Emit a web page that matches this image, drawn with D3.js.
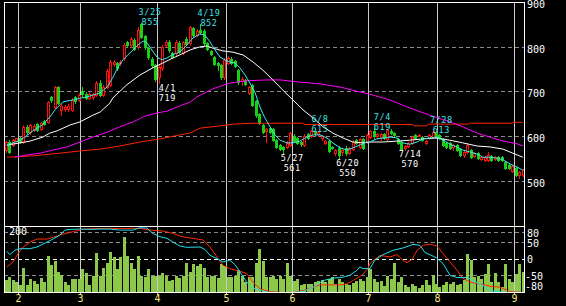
<!DOCTYPE html>
<html><head><meta charset="utf-8">
<script src="https://cdn.jsdelivr.net/npm/d3@7"></script>
<style>html,body{margin:0;padding:0;background:#000;overflow:hidden}</style>
</head><body>
<svg id="c" width="566" height="306"></svg>
<script>
// ---- data (daily bars, index 0..149) ----
const open  = [570,589,581,590,596,588,622,610,615,628,617,634,633,688,666,711,660,661,662,660,688,682,702,695,687,688,693,720,693,711,716,763,765,764,776,812,805,816,800,853,825,798,774,760,733,754,805,812,787,787,810,787,818,810,843,827,838,836,810,792,778,765,760,733,765,774,769,749,725,727,698,716,680,651,626,613,619,617,592,581,577,577,581,602,597,588,581,606,602,613,605,597,586,590,577,563,575,565,575,564,572,592,577,594,588,600,613,601,599,606,595,613,608,595,588,575,579,586,604,603,599,586,597,599,611,604,595,586,586,577,581,572,559,566,570,557,563,550,548,548,557,550,554,554,543,537,523,530,514,514];
const high  = [590,592,595,598,600,625,625,628,628,630,633,638,680,692,714,714,672,670,672,686,691,697,712,699,699,698,725,727,715,752,772,772,768,772,810,815,822,820,845,855,828,800,778,763,760,805,816,816,790,816,814,815,822,848,846,840,852,840,812,795,781,768,763,776,781,778,772,752,734,730,714,718,683,654,628,619,622,620,595,584,580,590,611,606,599,590,606,609,615,613,613,603,593,592,579,572,578,575,578,577,592,595,598,597,607,615,619,609,609,609,617,617,610,597,590,581,588,601,606,606,601,593,606,613,611,606,597,588,588,584,584,575,570,586,572,566,566,557,557,566,559,557,557,557,545,539,537,532,523,527];
const low   = [566,563,578,588,585,586,607,607,612,612,615,626,630,678,664,672,648,657,658,657,676,680,692,684,684,685,690,690,690,708,713,758,750,760,772,800,800,793,797,820,797,774,755,725,719,750,800,790,775,783,787,784,805,806,824,825,830,806,793,782,760,750,730,730,762,762,755,718,716,715,695,668,645,628,608,588,608,590,574,569,561,574,578,588,583,580,578,595,599,604,602,592,584,565,572,560,550,560,560,561,570,584,575,572,586,598,598,598,593,595,592,606,600,584,570,571,576,584,595,601,590,584,595,597,597,595,579,575,572,570,568,557,554,563,552,554,550,548,546,546,546,548,546,545,528,528,521,512,508,512];
const close = [587,566,592,596,588,622,610,625,624,615,630,628,677,682,711,675,668,667,668,682,679,693,695,687,696,695,720,693,711,747,767,768,754,768,805,805,818,796,838,823,800,778,760,729,756,800,812,794,778,812,790,812,807,845,827,836,834,810,796,785,763,760,733,772,776,765,758,722,729,718,711,671,648,631,611,617,611,592,577,572,572,586,608,590,586,584,602,597,613,608,611,601,590,568,574,570,559,570,563,574,588,586,595,575,604,612,601,606,606,597,615,608,604,586,570,579,586,599,597,604,592,590,604,611,599,597,581,577,575,581,570,559,566,581,554,563,552,554,554,559,548,554,548,548,530,530,534,514,521,525];
const volume = [36,44,36,29,22,72,22,39,32,24,42,29,108,81,94,62,52,29,21,39,39,39,69,59,21,49,118,49,72,89,120,107,69,107,168,108,89,69,108,49,46,69,49,48,48,59,49,34,36,48,42,48,88,62,86,79,86,72,46,48,49,43,86,79,44,45,48,66,48,29,45,46,89,131,94,44,46,48,39,49,39,89,48,34,39,22,24,24,24,29,34,36,29,39,44,24,39,29,24,22,26,34,39,34,46,69,39,29,32,19,48,39,89,29,46,22,16,25,19,13,22,36,22,52,25,16,22,29,25,29,22,25,36,115,98,46,48,39,56,84,29,59,29,16,84,39,29,56,84,62];

const monthLabels = ["2","3","4","5","6","7","8","9"];
const monthStart  = [4,22,44,64,83,105,125,147];
const priceTicks  = [900,800,700,600,500];
const oscTicks    = [80,50,0,-50,-80];
const oscGrid     = [80,50,0,-50];
const volumeLabel = "200";

const peakIdx   = [39,56,88,106,123];
const peakDate  = ["3/25","4/19","6/8","7/4","7/28"];
const troughIdx = [44,80,96,114];
const troughDate= ["4/1","5/27","6/20","7/14"];

// moving averages (bar index, price)
const maShortAt = [0.1,3.9,5.3,7.6,10.5,12.5,14,15.4,16.3,19.2,21.2,23.2,24.9,27,29,30.7,32.2,33.6,35,36.5,37.9,39.4,40.5,41.9,43.4,44.8,46.3,47.7,49.2,50.6,52,53.8,55.8,57.2,58.7,60.1,61.6,63,64.4,65.9,67.3,68.8,70.2,71.7,73.1,74.5,76,77.4,78.9,80.9,82.6,84.6,86.6,88.4,90.4,92.4,94.1,96.2,98.2,99.9,101.9,103.9,104.8,106.8,108.6,110.6,112.6,114.3,116.3,118.4,120.1,122.1,124.1,125.9,127.9,129.9,131.6,133.6,135.7,137.4,139.4,141.4,143.2,145.2,147.2,148.9];
const maShort   = [581,592,599,613,627,644,660,671,678,682,686,689,693,698,711,733,756,772,783,794,805,814,810,794,778,772,776,783,787,794,805,821,830,827,812,794,778,772,767,765,754,738,720,698,666,642,622,604,592,586,586,590,599,604,604,597,586,575,570,575,581,588,588,595,597,599,597,586,583,588,595,597,599,592,583,577,570,566,561,554,554,552,548,539,532,525];
const maMidAt = [0.1,3.9,6.8,8.8,10.5,12.5,14.6,16.3,18.3,21.2,24.9,27,29.8,30.7,34.7,38.5,42.2,45.1,48,50,52.9,55.8,57.8,59.5,62.4,65.3,68.2,71.1,73.9,76.8,79.7,82.6,85.5,88.4,91.3,94.1,97,99.9,102.8,104.8,108.6,112.6,116.3,120.1,124.1,127.9,131.6,135.7,139.4,143.2,146,148.9];
const maMid   = [581,586,590,595,599,608,613,619,626,633,648,655,675,687,716,738,754,765,776,783,794,801,803,798,792,789,783,767,749,727,704,682,660,642,622,608,597,588,586,588,588,590,592,595,597,592,586,579,577,572,563,554];
const maLongAt = [2.4,5.9,9.7,13.4,17.4,21.2,24.9,29,32.7,36.5,39.9,43.4,46.3,50,52.9,54.9,59.5,64.4,69.3,75.1,78.9,84.6,90.4,96.2,101.9,104.8,110.6,116.3,122.1,127.9,131.6,135.7,139.4,143.2,147.2,148.9];
const maLong   = [554,559,563,570,577,588,599,610,622,633,646,653,657,669,677,689,707,720,725,727,727,722,718,711,700,695,682,664,648,633,622,608,599,590,584,579];
const maVeryLongAt = [0.1,7.6,15.4,21.2,27,32.7,38.5,44.3,50,52.9,55.8,61.6,65.3,71.1,85.5,85.8,117.2,117.5,121.2,121.5,133.1,133.4,145.8,146.1,148.9];
const maVeryLong   = [554,557,563,568,572,579,588,595,604,608,619,624,628,630,630,627,627,624,624,628,628,630,630,632,632];

// oscillator (bar index, value -100..100)
const oscFastAt = [0.1,1,2.4,3.9,6.8,8.8,11.7,13.4,15.4,16.9,18.3,21.2,24.1,27,29.8,32.7,36.5,38.5,40.5,42.2,44.3,46.3,48,50,52,55.8,57.2,58.7,60.7,62.4,64.4,65.9,67.3,69.3,71.1,75.1,78.9,82.6,85.5,88.4,91.3,94.1,97,99,101.1,101.9,102.8,104.8,106.2,108.6,111.4,114.3,117.2,119.2,120.7,122.1,124.1,125.9,127.9,129.9,132.8,134.5,137.4,139.4,143.2,147.2,148.9];
const oscFast   = [24,14,27,32,32,37,52,61,73,88,90,91,90,91,91,88,88,95,94,78,68,63,52,40,36,37,30,12,2,-8,-3,-16,-38,-69,-87,-99,-100,-100,-97,-84,-64,-57,-54,-48,-33,-23,-28,-28,-3,14,27,34,45,42,20,14,4,-13,-48,-55,-55,-64,-79,-94,-99,-100,-100];
const oscSlowAt = [0.1,1.9,3.3,4.8,6.8,8.8,11.7,14,16.3,19.2,22.1,27,32.7,38.5,41.4,45.1,48,50.6,53.8,56.7,58.7,60.7,62.4,64.4,67.3,69.3,71.1,73.1,76,79.7,82.6,85.5,88.4,90.4,96.2,98.2,99.9,102.5,104.2,104.8,107.7,110.6,112.6,114.3,115.5,117,118.4,120.1,122.1,124.1,125.9,127.9,129.9,131.6,133.6,136.5,139.4,142.3,145.2,148.9];
const oscSlow   = [-23,-8,17,37,52,61,61,68,76,83,91,93,93,93,88,85,78,68,63,58,37,7,-18,-28,-36,-43,-69,-89,-97,-100,-100,-94,-84,-77,-77,-74,-64,-48,-28,-12,12,7,14,-3,-10,0,27,42,46,40,17,-8,-33,-57,-69,-74,-81,-84,-97,-100];

// ---- layout ----
const L = 4, R = 524, T = 2.5, MID = 226, B = 292;
const svg = d3.select("#c");
svg.append("rect").attr("width",566).attr("height",306).attr("fill","#000");
const n = close.length;
const x  = d3.scaleLinear().domain([0, n-1]).range([6.5, 523.2]);
const step = x(1) - x(0);
const y  = d3.scaleLinear().domain([400, 900]).range([MID, 2.6]);
const yv = d3.scaleLinear().domain([0, 200]).range([B, MID]);
const yo = d3.scaleLinear().domain([-100, 100]).range([292.5, 226.1]);
const font = "'DejaVu Sans Mono', monospace";
const px = v => Math.floor(v) + 0.5;
const monthX = ms => Math.floor(x(ms) - step/2 - 0.3) + 0.5;

const grid = svg.append("g").attr("shape-rendering","crispEdges");
priceTicks.filter(p => p < 900).forEach(p => {
  grid.append("line").attr("x1",L).attr("x2",R).attr("y1",px(y(p))).attr("y2",px(y(p)))
    .attr("stroke","#8a8a8a").attr("stroke-dasharray","4,3");
});
oscGrid.forEach(o => {
  grid.append("line").attr("x1",L).attr("x2",R).attr("y1",px(yo(o))).attr("y2",px(yo(o)))
    .attr("stroke", o === 0 ? "#ffffff" : "#8a8a8a").attr("stroke-dasharray","4,3");
});
monthStart.forEach(ms => {
  const xm = monthX(ms);
  grid.append("line").attr("x1",xm).attr("x2",xm).attr("y1",T).attr("y2",B+3)
    .attr("stroke","#c8c8c8");
});

// volume bars
const vg = svg.append("g").attr("shape-rendering","crispEdges");
vg.selectAll("rect").data(volume).join("rect")
  .attr("x",(d,i)=>Math.floor(x(i))-1).attr("width",3)
  .attr("y",d=>Math.round(yv(d))).attr("height",d=>B - Math.round(yv(d)))
  .attr("fill","#8cc84a");

// candles
const cg = svg.append("g").attr("shape-rendering","crispEdges");
d3.range(n).forEach(i => {
  const up = close[i] >= open[i];
  const col = up ? "#ff1010" : "#18d018";
  const cx = Math.floor(x(i));
  cg.append("line").attr("x1",cx+0.5).attr("x2",cx+0.5)
    .attr("y1",Math.round(y(high[i]))).attr("y2",Math.round(y(low[i]))+1).attr("stroke",col);
  const top = Math.round(y(Math.max(open[i],close[i])));
  const bot = Math.round(y(Math.min(open[i],close[i])));
  if (up) {
    cg.append("rect").attr("x",cx-0.5).attr("width",2).attr("y",top+0.5).attr("height",Math.max(bot-top,1))
      .attr("fill","#000").attr("stroke",col);
  } else {
    cg.append("rect").attr("x",cx-1).attr("width",3).attr("y",top).attr("height",Math.max(bot-top+1,1))
      .attr("fill",col);
  }
});

// lines
const lg = svg.append("g").attr("fill","none").attr("stroke-width",1);
function drawLine(at, vals, ys, col) {
  const line = d3.line().x(d=>x(d[0])).y(d=>ys(d[1]));
  lg.append("path").attr("d", line(d3.zip(at, vals))).attr("stroke", col);
}
drawLine(maVeryLongAt, maVeryLong, y, "#ff2200");
drawLine(maLongAt, maLong, y, "#ff00ff");
drawLine(maMidAt, maMid, y, "#ffffff");
drawLine(maShortAt, maShort, y, "#40e8f0");
drawLine(oscSlowAt, oscSlow, yo, "#ff2a00");
drawLine(oscFastAt, oscFast, yo, "#20e0f0");

// frame
const fg = svg.append("g").attr("shape-rendering","crispEdges").attr("stroke","#fff");
fg.append("line").attr("x1",L).attr("x2",R+1).attr("y1",T).attr("y2",T);
fg.append("line").attr("x1",L).attr("x2",R+1).attr("y1",MID+0.5).attr("y2",MID+0.5);
fg.append("line").attr("x1",L).attr("x2",R+1).attr("y1",B+0.5).attr("y2",B+0.5);
fg.append("line").attr("x1",L+0.5).attr("x2",L+0.5).attr("y1",T).attr("y2",B+1);
fg.append("line").attr("x1",R+0.5).attr("x2",R+0.5).attr("y1",T).attr("y2",B+1);

// axis labels
const tg = svg.append("g").attr("font-family",font).attr("font-size","10px");
priceTicks.forEach(p => {
  tg.append("text").attr("x",527).attr("y",y(p)+5.5).attr("fill","#fff").text(p);
});
oscTicks.forEach(o => {
  tg.append("text").attr("x", o < 0 ? 525 : 527).attr("y",yo(o)+4).attr("fill","#fff").text(o);
});
tg.append("text").attr("x",9).attr("y",235).attr("fill","#fff").text(volumeLabel);
monthLabels.forEach((m,k) => {
  tg.append("text").attr("x",monthX(monthStart[k])).attr("y",302).attr("text-anchor","middle")
    .attr("fill","#ffe880").text(m);
});

// peak / trough annotations (two lines each)
const ag = svg.append("g").attr("font-family",font).attr("font-size","8.5px")
  .attr("letter-spacing","0.6px").attr("text-anchor","middle");
function twoLine(cx, base1, l1, l2, col) {
  ag.append("text").attr("fill", col).attr("x",cx).attr("y",base1).text(l1);
  ag.append("text").attr("fill", col).attr("x",cx).attr("y",base1 + 10).text(l2);
}
peakIdx.forEach((i,k) => {
  twoLine(x(i) + 8.3, y(high[i]) - 8.2, peakDate[k], high[i], "#40e0e8");
});
troughIdx.forEach((i,k) => {
  twoLine(x(i) + 8.3, y(low[i]) + 7.3, troughDate[k], low[i], "#ffffff");
});
</script>
</body></html>
